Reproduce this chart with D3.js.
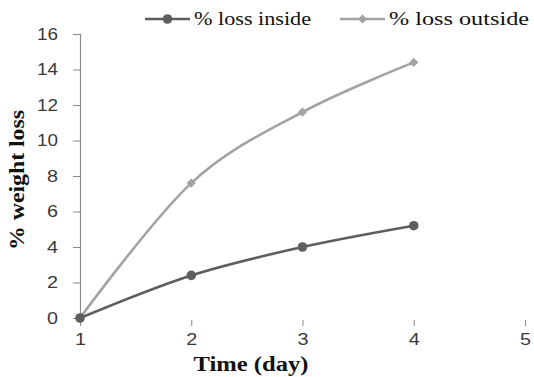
<!DOCTYPE html>
<html>
<head>
<meta charset="utf-8">
<script src="https://cdn.jsdelivr.net/npm/d3@7"></script>
<style>
  html, body { margin: 0; padding: 0; background: #fff; }
  svg { display: block; }
</style>
</head>
<body>
<svg id="chart" width="534" height="377"></svg>
<script>
// Weight loss over time, inside vs outside storage
const days = [1, 2, 3, 4];
const lossInside = [0, 2.4, 4.0, 5.2];
const lossOutside = [0, 7.6, 11.6, 14.4];
const xTicks = [1, 2, 3, 4, 5];
const yTicks = [0, 2, 4, 6, 8, 10, 12, 14, 16];
const seriesNames = ["% loss inside", "% loss outside"];

const svg = d3.select("#chart");
const x = d3.scaleLinear().domain([1, 5]).range([80, 525]);
const y = d3.scaleLinear().domain([0, 16]).range([318, 34]);

const axisColor = "#8a8a8a";
const colInside = "#5e5e5e";
const colOutside = "#a3a3a3";
const tickFont = "'Liberation Sans', Arial, sans-serif";
const serif = "'Liberation Serif', 'Times New Roman', serif";

// y axis
const yAxis = svg.append("g")
  .attr("transform", `translate(${x(1)},0)`)
  .call(d3.axisLeft(y).tickValues(yTicks).tickSize(7).tickPadding(15).tickFormat(d3.format("d")));
yAxis.select(".domain").attr("stroke", axisColor).attr("stroke-width", 1.2);
yAxis.selectAll(".tick line").attr("stroke", axisColor).attr("stroke-width", 1);
yAxis.selectAll(".tick text")
  .attr("fill", "#3a3a3a").attr("font-family", tickFont).attr("font-size", 16)
  .attr("textLength", d => String(d).length > 1 ? 21 : 11)
  .attr("lengthAdjust", "spacingAndGlyphs");

// x axis: tick marks and labels only
const xAxis = svg.append("g")
  .attr("transform", `translate(0,${y(0) + 2})`)
  .call(d3.axisBottom(x).tickValues(xTicks).tickSize(6).tickPadding(8).tickFormat(d3.format("d")));
xAxis.select(".domain").remove();
xAxis.selectAll(".tick line").attr("stroke", axisColor).attr("stroke-width", 1);
xAxis.selectAll(".tick text")
  .attr("fill", "#3a3a3a").attr("font-family", tickFont).attr("font-size", 16)
  .attr("textLength", 11).attr("lengthAdjust", "spacingAndGlyphs");

// axis titles
svg.append("text")
  .attr("x", 251).attr("y", 371)
  .attr("text-anchor", "middle")
  .attr("font-family", serif).attr("font-weight", "bold").attr("font-size", 20)
  .attr("fill", "#111")
  .attr("textLength", 115).attr("lengthAdjust", "spacingAndGlyphs")
  .text("Time (day)");

svg.append("text")
  .attr("transform", "translate(24,180) rotate(-90)")
  .attr("text-anchor", "middle")
  .attr("font-family", serif).attr("font-weight", "bold").attr("font-size", 21)
  .attr("fill", "#111")
  .attr("textLength", 140).attr("lengthAdjust", "spacingAndGlyphs")
  .text("% weight loss");

// series, smoothed
const line = d3.line()
  .x((d, i) => x(days[i]))
  .y(d => y(d))
  .curve(d3.curveCardinal.tension(0));

svg.append("path").datum(lossOutside)
  .attr("d", line).attr("fill", "none")
  .attr("stroke", colOutside).attr("stroke-width", 2.6);
svg.append("path").datum(lossInside)
  .attr("d", line).attr("fill", "none")
  .attr("stroke", colInside).attr("stroke-width", 2.6);

// square diamond markers
const diamond = d3.symbol().type(d3.symbolSquare).size(42);
svg.append("g").selectAll("path").data(lossOutside).join("path")
  .attr("d", diamond)
  .attr("transform", (d, i) => `translate(${x(days[i])},${y(d)}) rotate(45)`)
  .attr("fill", colOutside);

svg.append("g").selectAll("circle").data(lossInside).join("circle")
  .attr("cx", (d, i) => x(days[i])).attr("cy", d => y(d))
  .attr("r", 4.8).attr("fill", colInside);

// legend
const legend = [
  { name: seriesNames[0], color: colInside, shape: "circle", x0: 145, textLen: 117 },
  { name: seriesNames[1], color: colOutside, shape: "diamond", x0: 340, textLen: 140 }
];
const ly = 19;
legend.forEach(l => {
  const g = svg.append("g");
  g.append("line").attr("x1", l.x0).attr("x2", l.x0 + 45).attr("y1", ly).attr("y2", ly)
    .attr("stroke", l.color).attr("stroke-width", 2.6);
  if (l.shape === "circle") {
    g.append("circle").attr("cx", l.x0 + 22.5).attr("cy", ly).attr("r", 4.8).attr("fill", l.color);
  } else {
    g.append("path").attr("d", diamond)
      .attr("transform", `translate(${l.x0 + 22.5},${ly}) rotate(45)`).attr("fill", l.color);
  }
  g.append("text").attr("x", l.x0 + 49).attr("y", ly + 6)
    .attr("font-family", serif).attr("font-size", 19).attr("fill", "#111")
    .attr("textLength", l.textLen).attr("lengthAdjust", "spacingAndGlyphs")
    .text(l.name);
});
</script>
</body>
</html>
